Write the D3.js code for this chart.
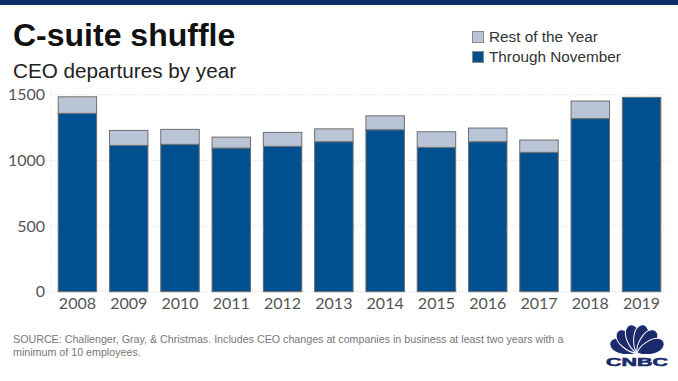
<!DOCTYPE html>
<html><head><meta charset="utf-8">
<script src="https://cdn.jsdelivr.net/npm/d3@7"></script>
<style>
html,body{margin:0;padding:0;background:#fff;}
svg{display:block;}
</style></head>
<body>
<svg id="c" width="678" height="381"></svg>
<script>
const years = ["2008","2009","2010","2011","2012","2013","2014","2015","2016","2017","2018","2019"];
const throughNovember = [1358,1114,1122,1094,1107,1142,1233,1099,1142,1061,1318,1480];
const restOfYear = [126,114,114,83,106,98,106,119,104,94,134,0];
const seriesNames = ["Through November","Rest of the Year"];
const yTicks = [0,500,1000,1500];

const svg = d3.select("#c");
const W = 678, H = 381;
svg.append("rect").attr("width",W).attr("height",H).attr("fill","#fff");
svg.append("rect").attr("width",W).attr("height",5).attr("fill","#0c2c6a");

svg.append("text").attr("x",13).attr("y",46).text("C-suite shuffle")
  .attr("font-family","Liberation Sans, Arial, sans-serif").attr("font-weight","bold")
  .attr("font-size",32).attr("fill","#111");
svg.append("text").attr("x",13).attr("y",78).text("CEO departures by year")
  .attr("font-family","Liberation Sans, Arial, sans-serif")
  .attr("font-size",20.7).attr("fill","#222");

const colors = {"Through November":"#00508f","Rest of the Year":"#b9c5d6"};
const legend = [["Rest of the Year",31],["Through November",51]];
legend.forEach(([n,yy])=>{
  svg.append("rect").attr("x",472.5).attr("y",yy+0.5).attr("width",11).attr("height",11)
    .attr("fill",colors[n]).attr("stroke","#888").attr("stroke-width",1);
  svg.append("text").attr("x",489).attr("y",yy+11).text(n)
    .attr("font-family","Liberation Sans, Arial, sans-serif").attr("font-size",15.3).attr("fill","#333");
});

const x = d3.scaleBand().domain(years).range([51,668]).paddingInner(0.25).paddingOuter(0.14);
const y = d3.scaleLinear().domain([0,1500]).range([291.7,94.7]);

const g = svg.append("g");
g.selectAll("line.grid").data(yTicks).join("line")
  .attr("x1",51).attr("x2",668).attr("y1",d=>y(d)).attr("y2",d=>y(d))
  .attr("stroke","#d6d6d6").attr("stroke-dasharray","1,2");
g.append("line").attr("x1",51).attr("x2",51).attr("y1",y(1500)-6).attr("y2",y(0))
  .attr("stroke","#e0e0e0").attr("stroke-dasharray","1,2");

const yAxis = d3.axisLeft(y).tickValues(yTicks).tickSize(0).tickPadding(0).tickFormat(d3.format("d"));
const ya = svg.append("g").attr("transform","translate(45,0)").call(yAxis);
ya.select(".domain").remove();
ya.selectAll("text").attr("font-family","Lato, sans-serif").attr("font-size",16).attr("fill","#555");

const xAxis = d3.axisBottom(x).tickSize(0).tickPadding(0);
const xa = svg.append("g").attr("transform","translate(0,298)").call(xAxis);
xa.select(".domain").remove();
xa.selectAll("text").attr("font-family","Lato, sans-serif").attr("font-size",16).attr("fill","#555");

const data = years.map((yr,i)=>({year:yr,"Through November":throughNovember[i],"Rest of the Year":restOfYear[i]}));
const stack = d3.stack().keys(seriesNames)(data);
stack.forEach(s=>{
  g.selectAll(null).data(s.filter(d=>d[1]>d[0])).join("rect")
    .attr("x",d=>x(d.data.year)).attr("width",x.bandwidth())
    .attr("y",d=>y(d[1])).attr("height",d=>y(d[0])-y(d[1]))
    .attr("fill",colors[s.key]).attr("stroke","#6e6e6e").attr("stroke-width",1);
});

const src = svg.append("text").attr("font-family","Liberation Sans, Arial, sans-serif")
  .attr("font-size",10.7).attr("fill","#777");
src.append("tspan").attr("x",13).attr("y",342.5)
  .text("SOURCE: Challenger, Gray, & Christmas. Includes CEO changes at companies in business at least two years with a");
src.append("tspan").attr("x",13).attr("y",355.5).text("minimum of 10 employees.");

// CNBC logo
const logo = svg.append("g").attr("transform","translate(637,353)");
const navy = "#1b2a6b";
const feathers = [-68,-41,-13.5,13.5,41,68];
feathers.forEach(a=>{
  logo.append("path").attr("d","M0,0 C-7,-6 -9,-21 -5,-26 C-2,-30 2,-30 5,-26 C9,-21 7,-6 0,0 Z")
    .attr("transform",`rotate(${a})`).attr("fill",navy).attr("stroke","#fff").attr("stroke-width",1);
});
logo.append("rect").attr("x",-32).attr("y",1).attr("width",64).attr("height",5).attr("fill","#fff");
logo.append("text").attr("x",-31).attr("y",13).text("CNBC")
  .attr("textLength",62).attr("lengthAdjust","spacingAndGlyphs")
  .attr("font-family","Liberation Sans, Arial, sans-serif").attr("font-weight","bold")
  .attr("font-size",10).attr("fill",navy).attr("stroke",navy).attr("stroke-width",0.5);
</script>
</body></html>
